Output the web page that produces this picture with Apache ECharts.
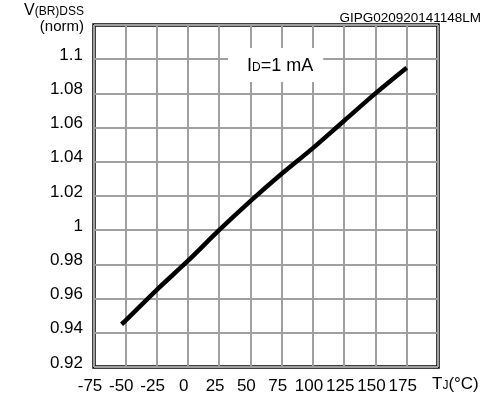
<!DOCTYPE html>
<html>
<head>
<meta charset="utf-8">
<style>
  html, body { margin: 0; padding: 0; background: #fff; }
  #chart { width: 493px; height: 398px; }
</style>
<script src="https://cdn.jsdelivr.net/npm/echarts@6/dist/echarts.min.js"></script>
</head>
<body>
<div id="chart"></div>
<script>
// Normalized breakdown voltage vs junction temperature
const temperature = [-53, -50, -25, 0, 25, 50, 75, 100, 125, 150, 175];
const vbrNorm     = [0.945, 0.947, 0.965, 0.982, 1.000, 1.017, 1.033, 1.048, 1.064, 1.080, 1.095];

// Axis settings
const xMin = -75, xMax = 200, xStep = 25;
const yMin = 0.92, yMax = 1.12, yStep = 0.02;

const FONT = '"Liberation Sans", Arial, sans-serif';

const chart = echarts.init(document.getElementById('chart'), null, { renderer: 'canvas' });

chart.setOption({
  backgroundColor: '#fff',
  animation: false,
  title: {
    text: 'GIPG020920141148LM',
    right: 7,
    top: 6,
    textStyle: { fontFamily: FONT, fontSize: 13.5, fontWeight: 'normal', color: '#000' }
  },
  grid: {
    left: 94, right: 55, top: 25, bottom: 31,
    show: true,
    borderColor: '#000',
    borderWidth: 3.5,
    backgroundColor: 'transparent'
  },
  xAxis: {
    type: 'value',
    min: xMin, max: xMax, interval: xStep,
    axisLine: { show: false },
    axisTick: { show: false },
    splitLine: { show: true, lineStyle: { color: '#a0a0a0', width: 2 } },
    axisLabel: {
      margin: 11,
      showMaxLabel: false,
      hideOverlap: false,
      fontFamily: FONT, fontSize: 17, color: '#000',
      padding: [0, 8, 0, 0],
      formatter: function (v) {
        return v === xMax ? '' : String(v);
      }
    },
    name: '{t|T}{s|J}{t|(°C)}',
    nameLocation: 'end',
    nameGap: -6,
    nameTextStyle: {
      align: 'left',
      verticalAlign: 'top',
      padding: [7, 0, 0, 0],
      rich: {
        t: { fontFamily: FONT, fontSize: 17, color: '#000', lineHeight: 19, verticalAlign: 'bottom' },
        s: { fontFamily: FONT, fontSize: 12, color: '#000', lineHeight: 14, verticalAlign: 'bottom', padding: [0, 0, 1.5, 0] }
      }
    }
  },
  yAxis: {
    type: 'value',
    min: yMin, max: yMax, interval: yStep,
    axisLine: { show: false },
    axisTick: { show: false },
    splitLine: { show: true, lineStyle: { color: '#a0a0a0', width: 2 } },
    axisLabel: {
      margin: 11,
      fontFamily: FONT, fontSize: 17, color: '#000',
      verticalAlign: 'bottom',
      lineHeight: 8,
      formatter: function (v) {
        if (Math.abs(v - yMax) < 1e-9) return '';
        return String(+v.toFixed(2));
      }
    }
  },
  series: [{
    type: 'line',
    data: temperature.map((t, i) => [t, vbrNorm[i]]),
    showSymbol: false,
    smooth: 0.3,
    lineStyle: { color: '#000', width: 4.5 },
    z: 5
  }],
  graphic: [{
    // y-axis title
    type: 'text',
    right: 493 - 84,
    top: 3,
    style: {
      text: '{v|V}{s|(BR)DSS}\n{n|(norm)}',
      align: 'right',
      rich: {
        v: { fontFamily: FONT, fontSize: 16, fill: '#000', lineHeight: 18, verticalAlign: 'bottom', align: 'right' },
        s: { fontFamily: FONT, fontSize: 12, fill: '#000', lineHeight: 14, verticalAlign: 'bottom', align: 'right', padding: [0, 0, 1.5, 0] },
        n: { fontFamily: FONT, fontSize: 15, fill: '#000', lineHeight: 16, align: 'right' }
      }
    }
  }, {
    // test-condition note
    type: 'text',
    left: 228,
    top: 48,
    z: 10,
    style: {
      text: '{i|I}{d|D}{i|=1 mA}',
      backgroundColor: '#fff',
      padding: [7, 10, 7, 19],
      rich: {
        i: { fontFamily: FONT, fontSize: 18, fill: '#000', lineHeight: 20, verticalAlign: 'bottom' },
        d: { fontFamily: FONT, fontSize: 12, fill: '#000', lineHeight: 14, verticalAlign: 'bottom', padding: [0, 0, 1.5, 0] }
      }
    }
  }]
});
</script>
</body>
</html>
